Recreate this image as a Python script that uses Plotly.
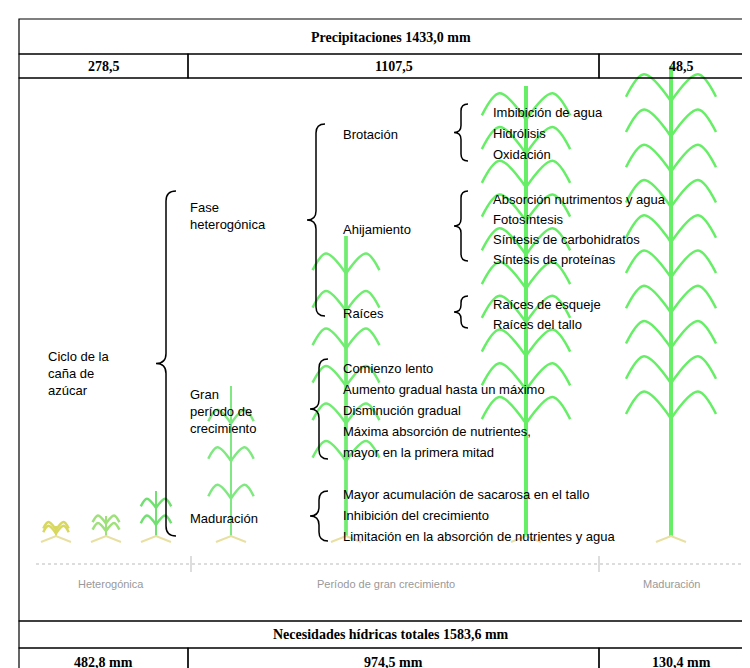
import plotly.graph_objects as go

# table values
top_title = "Precipitaciones 1433,0 mm"
top_cells = ["278,5", "1107,5", "48,5"]
bottom_title = "Necesidades hídricas totales 1583,6 mm"
bottom_cells = ["482,8 mm", "974,5 mm", "130,4 mm"]
cell_edges = [3, 172, 583, 747]

# stage labels along the bottom
stage_labels = ["Heterogónica", "Período de gran crecimiento", "Maduración"]
stage_x = [95, 370, 655]

# diagram text
root_label = "Ciclo de la<br>caña de<br>azúcar"
phases = ["Fase<br>heterogónica", "Gran<br>período de<br>crecimiento", "Maduración"]
phase_y = [200, 395, 502]
sub_phases = ["Brotación", "Ahijamiento", "Raíces"]
sub_y = [118, 213, 297]
brotacion = ["Imbibición de agua", "Hidrólisis", "Oxidación"]
ahijamiento = ["Absorción nutrimentos y agua", "Fotosíntesis",
               "Síntesis de carbohidratos", "Síntesis de proteínas"]
raices = ["Raíces de esqueje", "Raíces del tallo"]
crecimiento = ["Comienzo lento", "Aumento gradual hasta un máximo",
               "Disminución gradual", "Máxima absorción de nutrientes,",
               "mayor en la primera mitad"]
maduracion = ["Mayor acumulación de sacarosa en el tallo",
              "Inhibición del crecimiento",
              "Limitación en la absorción de nutrientes y agua"]

# plant illustration: base x, height (px), colour
plant_x = [40, 90, 140, 215, 330, 510, 655]
plant_h = [10, 20, 45, 150, 300, 450, 470]
plant_c = ["#d8d860", "#9ee07a", "#70e070", "#80e880", "#70ec70", "#66ee66", "#66ee66"]

ground_y = 520
fig = go.Figure()

# plants
for px, ph, pc in zip(plant_x, plant_h, plant_c):
    top = ground_y - ph
    fig.add_trace(go.Scatter(x=[px, px], y=[ground_y, top], mode="lines",
                             line=dict(color=pc, width=min(4, max(2, ph / 80))),
                             hoverinfo="skip", showlegend=False))
    n = max(2, int(ph / 45))
    for i in range(n):
        ly = ground_y - ph * (0.25 + 0.75 * i / n)
        spread = min(45, 12 + ph / 14)
        for s in (-1, 1):
            fig.add_trace(go.Scatter(x=[px, px + s * spread * 0.6, px + s * spread],
                                     y=[ly, ly - spread * 0.6, ly - spread * 0.1],
                                     mode="lines", line=dict(color=pc, width=2.5, shape="spline"),
                                     hoverinfo="skip", showlegend=False))
    fig.add_trace(go.Scatter(x=[px - 15, px, px + 15], y=[ground_y + 6, ground_y, ground_y + 6],
                             mode="lines", line=dict(color="#e8e0a0", width=2),
                             hoverinfo="skip", showlegend=False))

shapes = []
ann = []


def rect(x0, y0, x1, y1):
    shapes.append(dict(type="rect", x0=x0, y0=y0, x1=x1, y1=y1,
                       line=dict(color="black", width=1.2), fillcolor="rgba(0,0,0,0)"))


def brace(x, y0, y1, w=8):
    ym = (y0 + y1) / 2
    p = (f"M {x + w},{y0} Q {x},{y0} {x},{y0 + w} L {x},{ym - w} "
         f"Q {x},{ym} {x - w},{ym} Q {x},{ym} {x},{ym + w} "
         f"L {x},{y1 - w} Q {x},{y1} {x + w},{y1}")
    shapes.append(dict(type="path", path=p, line=dict(color="black", width=1.5)))


def text(x, y, s, size=13, anchor="left", color="black", font="Liberation Sans"):
    ann.append(dict(x=x, y=y, text=s, showarrow=False, xanchor=anchor, yanchor="middle",
                    font=dict(family=font, size=size, color=color), align="left"))


# tables
serif = "Liberation Serif"
rect(3, 3, 747, 38)
text(375, 21, "<b>" + top_title + "</b>", 14, "center", font=serif)
for i, c in enumerate(top_cells):
    rect(cell_edges[i], 38, cell_edges[i + 1], 62)
    text((cell_edges[i] + cell_edges[i + 1]) / 2, 50, "<b>" + c + "</b>", 14, "center", font=serif)
rect(3, 62, 747, 605)
rect(3, 605, 747, 632)
text(375, 618, "<b>" + bottom_title + "</b>", 14, "center", font=serif)
for i, c in enumerate(bottom_cells):
    rect(cell_edges[i], 632, cell_edges[i + 1], 660)
    text((cell_edges[i] + cell_edges[i + 1]) / 2, 646, "<b>" + c + "</b>", 14, "center", font=serif)

# ground axis
shapes.append(dict(type="line", x0=20, x1=730, y0=548, y1=548,
                   line=dict(color="#bbbbbb", width=1, dash="dot")))
for sx in (175, 583):
    shapes.append(dict(type="line", x0=sx, x1=sx, y0=540, y1=556,
                       line=dict(color="#bbbbbb", width=1)))
for s, sx in zip(stage_labels, stage_x):
    text(sx, 568, s, 11, "center", "#999999")

# hierarchy
text(30, 357, root_label, 13)
brace(150, 175, 520, 10)
for s, y in zip(phases, phase_y):
    text(172, y, s, 13)
brace(300, 108, 300, 9)
for s, y in zip(sub_phases, sub_y):
    text(325, y, s, 13)


def block(items, y0, dy, x=475):
    for i, s in enumerate(items):
        text(x, y0 + i * dy, s, 13)


brace(445, 88, 145, 7)
block(brotacion, 96, 21)
brace(445, 175, 245, 7)
block(ahijamiento, 183, 20)
brace(445, 280, 312, 7)
block(raices, 288, 20)
brace(303, 343, 443, 9)
block(crecimiento, 352, 21, 325)
brace(303, 475, 525, 9)
block(maduracion, 478, 21, 325)

fig.update_layout(width=750, height=668, margin=dict(l=0, r=0, t=0, b=0),
                  plot_bgcolor="white", paper_bgcolor="white",
                  shapes=shapes, annotations=ann,
                  xaxis=dict(range=[-8, 742], visible=False, fixedrange=True),
                  yaxis=dict(range=[660, -8], visible=False, fixedrange=True))
fig.write_html("out.html")
